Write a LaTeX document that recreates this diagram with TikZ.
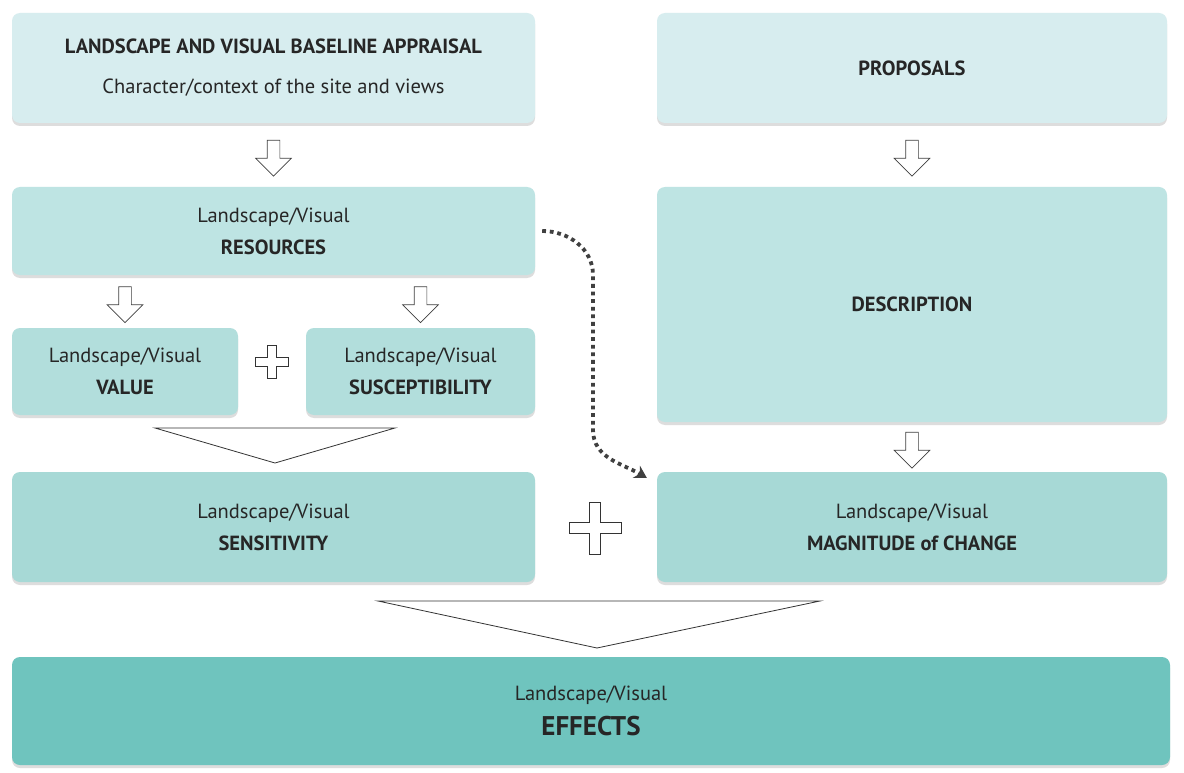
\documentclass[tikz,border=0pt]{standalone}
\usepackage{fontspec}
\setmainfont{PT Sans}
\usetikzlibrary{calc, shapes.arrows, shadows, arrows.meta}

\definecolor{paleteal}{HTML}{D7EDEF}
\definecolor{lightteal}{HTML}{BEE4E3}
\definecolor{midteal}{HTML}{B2DEDC}
\definecolor{deepteal}{HTML}{A7D9D6}
\definecolor{darkteal}{HTML}{6FC4BE}
\definecolor{inkgrey}{HTML}{262626}

\tikzset{
  box/.style={rectangle, rounded corners=8pt, inner sep=0pt, align=center,
    text=inkgrey, font=\fontsize{20.5}{32}\selectfont,
    drop shadow={shadow xshift=0pt, shadow yshift=-3pt, opacity=0.22, fill=black!60}},
  dnarrow/.style={single arrow, draw=black!75, fill=white, line width=0.7pt,
    rotate=-90, minimum height=36pt, inner sep=6pt,
    single arrow head extend=11.5pt, single arrow head indent=0pt},
  dotline/.style={line width=3.8pt, dash pattern=on 3.8pt off 3.8pt, draw=black!75},
  funnel/.style={draw=black!80, fill=white, line width=0.8pt},
  pics/cross/.style 2 args={code={
    \draw[funnel] (-#1,-#2) -- (-#2,-#2) -- (-#2,-#1) -- (#2,-#1) -- (#2,-#2)
      -- (#1,-#2) -- (#1,#2) -- (#2,#2) -- (#2,#1) -- (-#2,#1) -- (-#2,#2)
      -- (-#1,#2) -- cycle;}}
}

\begin{document}
\begin{tikzpicture}[x=1pt, y=1pt]
      \useasboundingbox[fill=white] (0,0) rectangle (1184,-773);

      \coordinate (c1) at (273.5,-68);
      \coordinate (c2) at (912,-68);
      \coordinate (c3) at (273.5,-231);
      \coordinate (c4) at (912,-304.5);
      \coordinate (c5) at (125,-371.5);
      \coordinate (c6) at (420.5,-371.5);
      \coordinate (c7) at (273.5,-527);
      \coordinate (c8) at (912,-527);
      \coordinate (c9) at (591,-711);

      % \foreach \i in {1,...,9} \fill (c\i) circle (3pt);

      \node[box, fill=paleteal, minimum width=523pt, minimum height=110pt] (base) at (c1)
        {\textbf{LANDSCAPE AND VISUAL BASELINE APPRAISAL}\\[8pt]Character/context of the site and views};
      \node[box, fill=paleteal, minimum width=510pt, minimum height=110pt] (prop) at (c2)
        {\textbf{PROPOSALS}};
      \node[box, fill=lightteal, minimum width=523pt, minimum height=88pt] (res) at (c3)
        {Landscape/Visual\\\textbf{RESOURCES}};
      \node[box, fill=lightteal, minimum width=510pt, minimum height=235pt] (desc) at (c4)
        {\textbf{DESCRIPTION}};
      \node[box, fill=midteal, minimum width=226pt, minimum height=87pt] (val) at (c5)
        {Landscape/Visual\\\textbf{VALUE}};
      \node[box, fill=midteal, minimum width=229pt, minimum height=87pt] (susc) at (c6)
        {Landscape/Visual\\\textbf{SUSCEPTIBILITY}};
      \node[box, fill=deepteal, minimum width=523pt, minimum height=110pt] (sens) at (c7)
        {Landscape/Visual\\\textbf{SENSITIVITY}};
      \node[box, fill=deepteal, minimum width=510pt, minimum height=110pt] (mag) at (c8)
        {Landscape/Visual\\\textbf{MAGNITUDE of CHANGE}};
      \node[box, fill=darkteal, minimum width=1158pt, minimum height=108pt] (eff) at (c9)
        {Landscape/Visual\\[3pt]{\fontsize{27}{30}\selectfont\bfseries EFFECTS}};

      % hollow arrows
      \node[dnarrow] (a1) at ($(base.south)!0.5!(res.north)$) {};
      \node[dnarrow] (a2) at ($(prop.south)!0.5!(desc.north)$) {};
      \node[dnarrow] (a3) at ($(res.south -| val)!0.5!(val.north)$) {};
      \node[dnarrow] (a4) at ($(res.south -| susc)!0.5!(susc.north)$) {};
      \node[dnarrow] (a5) at ($(desc.south)!0.5!(mag.north)$) {};

      % plus signs
      \pic at (272,-362) {cross={16.5}{4.5}};
      \pic at (595,-528) {cross={26}{5.5}};

      % funnels
      \draw[funnel] (155,-428) -- (395,-428) -- (275,-463) -- cycle;
      \draw[funnel] (378,-601) -- (820,-601) -- (597,-648) -- cycle;

      % dotted link
      \draw[dotline, -{Stealth[length=12pt, width=14pt]}] ([xshift=7pt]res.east)
        to[out=0, in=90] (593,-275) -- (593,-430)
        to[out=-90, in=150] ([xshift=-10pt, yshift=-6pt]mag.north west);
    \end{tikzpicture}
\end{document}
